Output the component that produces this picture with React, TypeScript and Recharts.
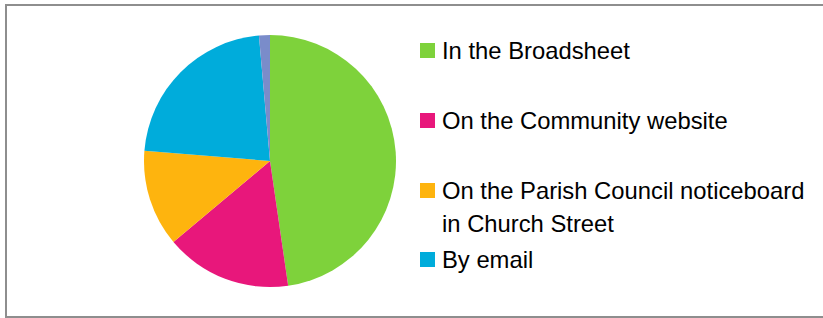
import { PieChart, Pie, Cell } from "recharts"

const categories = [
  "In the Broadsheet",
  "On the Community website",
  "On the Parish Council noticeboard in Church Street",
  "By email",
  "Other",
]
const shares = [47.7, 16.2, 12.4, 22.3, 1.4]
const colors = ["#7ed23b", "#e8177b", "#feb40e", "#00acdb", "#7a8cca"]

// only the first four entries fit in the legend box
const legendCount = 4
const legendGaps = [37, 37, 3]

const data = categories.map((name, i) => ({ name, value: shares[i] }))

function ChartLegend() {
  return (
    <div
      style={{
        position: "absolute",
        left: 420,
        top: 33.5,
        fontFamily: "'Liberation Sans', Arial, sans-serif",
        fontSize: 23.8,
        lineHeight: "33px",
        color: "#000",
      }}
    >
      {categories.slice(0, legendCount).map((name, i) => (
        <div key={name} style={{ display: "flex", alignItems: "flex-start", marginBottom: legendGaps[i] ?? 0 }}>
          <span style={{ width: 15, height: 15, background: colors[i], marginTop: 9, marginRight: 7, flexShrink: 0 }} />
          <span style={{ width: 375 }}>{name}</span>
        </div>
      ))}
    </div>
  )
}

export default function App() {
  return (
    <div style={{ position: "absolute", left: 0, top: 0, width: 823, height: 318, background: "#fff", overflow: "hidden" }}>
      <div style={{ position: "absolute", left: 5, top: 4, width: 830, height: 310, border: "2px solid #8e8e8e" }} />
      <PieChart
        width={823}
        height={318}
        margin={{ top: 0, right: 0, bottom: 0, left: 0 }}
        style={{ position: "absolute", left: 0, top: 0 }}
      >
        <Pie
          data={data}
          dataKey="value"
          nameKey="name"
          cx={270}
          cy={161}
          outerRadius={126}
          startAngle={90}
          endAngle={-270}
          stroke="none"
          isAnimationActive={false}
        >
          {data.map((d, i) => (
            <Cell key={d.name} fill={colors[i]} />
          ))}
        </Pie>
      </PieChart>
      <ChartLegend />
    </div>
  )
}
